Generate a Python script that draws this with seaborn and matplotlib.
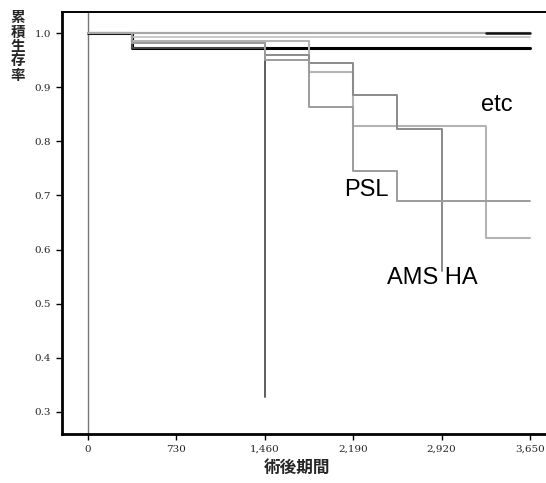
import matplotlib
matplotlib.use("Agg")
import matplotlib.pyplot as plt
import seaborn as sns
import pandas as pd

sns.set_theme(style="white")
plt.rcParams['font.family'] = ['Liberation Sans', 'DejaVu Sans']

# ---- data (days, cumulative survival) ----
top_t = [0, 3650]
top_s = [1.0, 1.0]
topk_t = [3285, 3650]
topk_s = [1.0, 1.0]
g2_t = [0, 365, 3650]
g2_s = [1.0, 0.993, 0.993]
etc_t = [0, 365, 1825, 2190, 3285, 3650]
etc_s = [1.0, 0.986, 0.928, 0.829, 0.621, 0.621]
ha_t = [0, 365, 1460, 1825, 2190, 2555, 2920]
ha_s = [1.0, 0.981, 0.959, 0.944, 0.885, 0.822, 0.56]
psl_t = [0, 365, 1460, 1825, 2190, 2555, 3650]
psl_s = [1.0, 0.981, 0.95, 0.863, 0.746, 0.69, 0.69]
ams_t = [0, 365, 1460]
ams_s = [1.0, 0.972, 0.328]
blk_t = [0, 365, 3650]
blk_s = [1.0, 0.972, 0.972]

x_ticks = [0, 730, 1460, 2190, 2920, 3650]
x_labels = ["0", "730", "1,460", "2,190", "2,920", "3,650"]
y_ticks = [0.3, 0.4, 0.5, 0.6, 0.7, 0.8, 0.9, 1.0]
y_labels = ["0.3", "0.4", "0.5", "0.6", "0.7", "0.8", "0.9", "1.0"]

curves = [
    ("black", blk_t, blk_s, "#000000", 2.2, 2),
    ("AMS", ams_t, ams_s, "#505050", 1.3, 3),
    ("g2", g2_t, g2_s, "#c4c4c4", 1.3, 3),
    ("etc", etc_t, etc_s, "#b4b4b4", 1.5, 3),
    ("HA", ha_t, ha_s, "#8a8a8a", 1.4, 3),
    ("PSL", psl_t, psl_s, "#9c9c9c", 1.4, 3),
    ("top", top_t, top_s, "#a8a8a8", 1.6, 4),
    ("topk", topk_t, topk_s, "#111111", 1.8, 5),
]

fig = plt.figure(figsize=(5.46, 4.83), dpi=100)
ax = fig.add_axes([62/546, 49/483, 1 - 62/546, (434-12)/483])

for name, t, s, c, lw, z in curves:
    df = pd.DataFrame({"time": t, "surv": s})
    sns.lineplot(data=df, x="time", y="surv", ax=ax, color=c, lw=lw, zorder=z,
                 drawstyle="steps-post", estimator=None, sort=False, legend=False)

ax.axvline(0, color="#777777", lw=1.0, zorder=1)

ax.set_xlim(-215, 3782)
ax.set_ylim(0.259, 1.039)
ax.set_xticks(x_ticks)
ax.set_xticklabels(x_labels, fontsize=7.5, family="DejaVu Serif")
ax.set_yticks(y_ticks)
ax.set_yticklabels(y_labels, fontsize=7.5, family="DejaVu Serif")
ax.tick_params(axis="both", direction="out", length=4, width=1, color="black",
               bottom=True, left=True, pad=4)
ax.set_xlabel("")
ax.set_ylabel("")
for side in ["left", "bottom", "top"]:
    ax.spines[side].set_color("black")
ax.spines["left"].set_linewidth(2.0)
ax.spines["bottom"].set_linewidth(2.0)
ax.spines["top"].set_linewidth(1.4)
ax.spines["right"].set_visible(False)

ax.text(3378, 0.867, "etc", fontsize=17, ha="center", va="center", color="black")
ax.text(2296, 0.71, "PSL", fontsize=17, ha="center", va="center", color="black")
ax.text(2841, 0.547, "AMS HA", fontsize=17, ha="center", va="center", color="black")

fig.text(18/546, 1 - 46/483, "累\n積\n生\n存\n率", fontsize=10.5, fontweight="bold",
         family=["Noto Sans CJK JP", "DejaVu Sans"], ha="center", va="center",
         linespacing=0.88)
fig.text(297/546, 1 - 468/483, "術後期間", fontsize=12, fontweight="bold",
         family=["Noto Sans CJK JP", "DejaVu Sans"], ha="center", va="center")

fig.savefig("out.png", dpi=100)
